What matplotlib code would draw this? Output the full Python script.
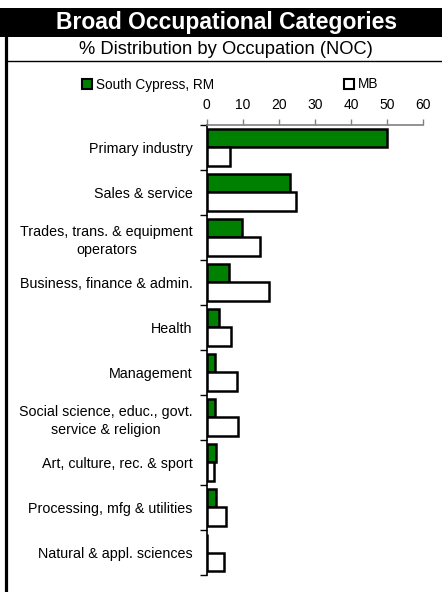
import matplotlib
matplotlib.use("Agg")
import matplotlib.pyplot as plt
import numpy as np
from matplotlib.patches import Rectangle, Patch
from matplotlib.lines import Line2D

# data
categories = [
    "Primary industry",
    "Sales & service",
    "Trades, trans. & equipment\noperators",
    "Business, finance & admin.",
    "Health",
    "Management",
    "Social science, educ., govt.\nservice & religion",
    "Art, culture, rec. & sport",
    "Processing, mfg & utilities",
    "Natural & appl. sciences",
]
south_cypress = [50.0, 23.1, 9.7, 6.1, 3.5, 2.3, 2.3, 2.5, 2.5, 0.0]
mb = [6.5, 24.6, 14.9, 17.3, 6.6, 8.5, 8.8, 2.1, 5.3, 4.9]
xticks = [0, 10, 20, 30, 40, 50, 60]

plt.rcParams["font.family"] = ["Liberation Sans", "DejaVu Sans"]

W, H = 442, 592
fig = plt.figure(figsize=(W / 100, H / 100), dpi=100)


def fx(px):
    return px / W


def fy(py):
    return 1 - py / H


# title band
fig.patches.append(Rectangle((0, fy(37)), 1, fy(8) - fy(37), transform=fig.transFigure,
                             facecolor="black", edgecolor="none"))
fig.text(fx(226.5), fy(23), "Broad Occupational Categories", color="white",
         fontsize=16.5, fontweight="bold", ha="center", va="center")
fig.text(fx(225.5), fy(49.5), "% Distribution by Occupation (NOC)", color="black",
         fontsize=13.2, ha="center", va="center")
fig.lines.append(Line2D([fx(6), 1], [fy(61), fy(61)], transform=fig.transFigure,
                        color="black", linewidth=1))
fig.lines.append(Line2D([fx(5.5), fx(5.5)], [fy(37), 0], transform=fig.transFigure,
                        color="black", linewidth=2.3))

ax = fig.add_axes([fx(206.7), fy(575), fx(423.3) - fx(206.7), fy(125) - fy(575)])

y = np.arange(len(categories))
h = 0.41
ax.barh(y - h / 2, south_cypress, height=h, color="#008000", edgecolor="black",
        linewidth=1.8, label="South Cypress, RM")
ax.barh(y + h / 2, mb, height=h, color="white", edgecolor="black",
        linewidth=1.8, label="MB")

ax.set_xlim(0, 60)
ax.set_ylim(len(categories) - 0.5, -0.5)
ax.xaxis.tick_top()
ax.set_xticks(xticks)
ax.tick_params(axis="x", direction="out", length=4, width=1, color="#808080",
               labelsize=10, pad=5.5)

ax.set_yticks(y)
ax.set_yticklabels(categories, fontsize=10.3, multialignment="center",
                   linespacing=1.35)
ax.tick_params(axis="y", which="major", length=0, pad=10)
ax.set_yticks(np.arange(-0.5, len(categories)), minor=True)
ax.tick_params(axis="y", which="minor", direction="out", length=5, width=1,
               color="black")

ax.spines["right"].set_visible(False)
ax.spines["bottom"].set_visible(False)
ax.spines["top"].set_color("#808080")
ax.spines["top"].set_linewidth(1.2)
ax.spines["left"].set_linewidth(1.2)

green_h = Patch(facecolor="#008000", edgecolor="black", linewidth=1.5)
white_h = Patch(facecolor="white", edgecolor="black", linewidth=1.5)
leg1 = fig.legend([green_h], ["South Cypress, RM"], loc="center left",
                  bbox_to_anchor=(fx(82), fy(84.5)), frameon=False, fontsize=9.8,
                  handlelength=0.75, handleheight=0.75, handletextpad=0.25,
                  borderpad=0, borderaxespad=0)
leg2 = fig.legend([white_h], ["MB"], loc="center left",
                  bbox_to_anchor=(fx(344), fy(84.5)), frameon=False, fontsize=9.8,
                  handlelength=0.75, handleheight=0.75, handletextpad=0.25,
                  borderpad=0, borderaxespad=0)

fig.savefig("out.png", dpi=100)
